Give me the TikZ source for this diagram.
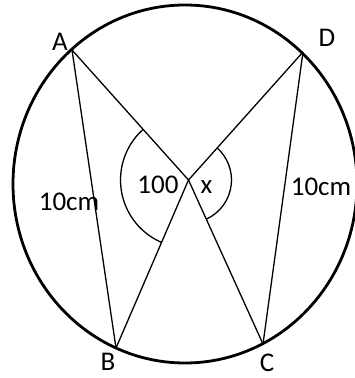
\documentclass[tikz,border=0pt]{standalone}
\usepackage{fontspec}
\setmainfont{Carlito}
\usetikzlibrary{angles}

\begin{document}
\begin{tikzpicture}[x=1pt, y=1pt,
        lbl/.style={inner sep=0pt, font=\fontsize{27}{31}\selectfont},
        chord/.style={line width=1.3pt}]
        \useasboundingbox (0,0) rectangle (355,378);

        % points on the circle and the crossing point
        \coordinate (O) at (185,194);
        \coordinate (A) at (72,328);
        \coordinate (D) at (303,326);
        \coordinate (B) at (116,30);
        \coordinate (C) at (263,34);
        \coordinate (X) at (188.5,198);

        \draw[line width=2.8pt] (O) ellipse [x radius=172pt, y radius=179pt];

        \draw[chord] (A) -- (X) -- (C);
        \draw[chord] (D) -- (X) -- (B);
        \draw[chord] (A) -- (B);
        \draw[chord] (D) -- (C);

        \pic[draw, chord, angle radius=68pt] {angle = A--X--B};
        \pic[draw, chord, angle radius=43pt] {angle = C--X--D};

        \node[lbl] (labA) at (60,336) {A};
        \node[lbl] (labD) at (327,340) {D};
        \node[lbl] (labB) at (108,16) {B};
        \node[lbl] (labC) at (267,15) {C};
        \node[lbl] (lenAB) at (69,176) {10cm};
        \node[lbl] (lenDC) at (321,191) {10cm};
        \node[lbl] (ang) at (158,193.5) {100};
        \node[lbl] (angx) at (206.5,191) {x};
    \end{tikzpicture}
\end{document}
